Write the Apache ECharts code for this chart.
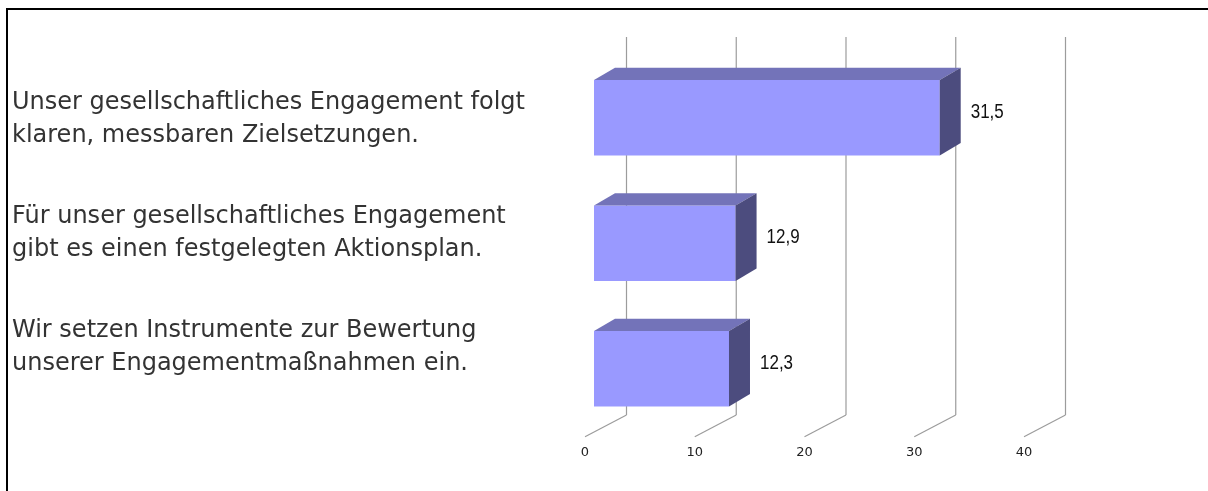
<!DOCTYPE html>
<html><head><meta charset="utf-8">
<script src="https://cdn.jsdelivr.net/npm/echarts@6/dist/echarts.min.js"></script>
<style>html,body{margin:0;padding:0;background:#fff}#c{width:1208px;height:491px}</style>
</head><body><div id="c"></div>
<script>
const categories = [
  'Unser gesellschaftliches Engagement folgt\nklaren, messbaren Zielsetzungen.',
  'Für unser gesellschaftliches Engagement\ngibt es einen festgelegten Aktionsplan.',
  'Wir setzen Instrumente zur Bewertung\nunserer Engagementmaßnahmen ein.'
];
const values = [31.5, 12.9, 12.3];
const valueLabels = ['31,5', '12,9', '12,3'];
const ticks = [0, 10, 20, 30, 40];
const tickLabels = ['0', '10', '20', '30', '40'];

const chart = echarts.init(document.getElementById('c'), null, {renderer: 'canvas'});

function renderGrid(params, api) {
  const t = api.value(0);
  const idx = api.value(1);
  const cs = params.coordSys;
  const p = api.coord([t, 0]);
  const bx = p[0] + 32.5;
  const fx = p[0] - 9;
  const top = cs.y - 18;
  const bottom = cs.y + cs.height - 16.5;
  const front = bottom + 21.7;
  return {
    type: 'group',
    children: [
      {type: 'line', shape: {x1: bx, y1: top, x2: bx, y2: bottom}, style: {stroke: '#9c9c9c', lineWidth: 1.2}},
      {type: 'line', shape: {x1: bx, y1: bottom, x2: fx, y2: front}, style: {stroke: '#9c9c9c', lineWidth: 1.2}},
      {type: 'text', style: {text: tickLabels[idx], x: fx, y: front + 16, align: 'center', verticalAlign: 'middle',
        font: '13px "DejaVu Sans", sans-serif', fill: '#222'}}
    ]
  };
}

function renderBar(params, api) {
  const v = api.value(0);
  const idx = api.value(1);
  const p0 = api.coord([0, idx]);
  const p1 = api.coord([v, idx]);
  const h = api.size([0, 1])[1] * 0.6;
  const x0 = p0[0], x1 = p1[0];
  const yT = p0[1] - h / 2, yB = p0[1] + h / 2;
  const dx = 21, dy = -12.4;
  return {
    type: 'group',
    children: [
      {type: 'rect', shape: {x: x0, y: yT, width: x1 - x0, height: h}, style: {fill: '#9999ff'}},
      {type: 'polygon', shape: {points: [[x0, yT], [x0 + dx, yT + dy], [x1 + dx, yT + dy], [x1, yT]]}, style: {fill: '#7373b9'}},
      {type: 'polygon', shape: {points: [[x1, yT], [x1 + dx, yT + dy], [x1 + dx, yB + dy], [x1, yB]]}, style: {fill: '#4c4c7e'}},
      {type: 'text', x: x1 + 31, y: p0[1] - 5.5, scaleX: 0.85,
        style: {text: valueLabels[idx], x: 0, y: 0, align: 'left', verticalAlign: 'middle',
        font: '20px "Liberation Sans", Arial, sans-serif', fill: '#111'}}
    ]
  };
}

chart.setOption({
  animation: false,
  backgroundColor: '#ffffff',
  grid: [
    {left: 594, width: 439, top: 55, height: 376.5},
    {left: 594, width: 439, top: 62, height: 342}
  ],
  xAxis: [
    {gridIndex: 0, type: 'value', min: 0, max: 40, interval: 10, show: false},
    {gridIndex: 1, type: 'value', min: 0, max: 40, interval: 10, show: false}
  ],
  yAxis: [
    {gridIndex: 0, type: 'category', data: categories, inverse: true, show: false},
    {gridIndex: 1, type: 'category', data: categories, inverse: true,
      axisLine: {show: false}, axisTick: {show: false}, splitLine: {show: false},
      axisLabel: {align: 'left', margin: 582, fontSize: 24, lineHeight: 33, color: '#333',
        fontFamily: '"DejaVu Sans", sans-serif'}}
  ],
  graphic: [
    {type: 'line', shape: {x1: 6, y1: 9, x2: 1208, y2: 9}, style: {stroke: '#000', lineWidth: 2}},
    {type: 'line', shape: {x1: 7, y1: 8, x2: 7, y2: 491}, style: {stroke: '#000', lineWidth: 2}}
  ],
  series: [
    {type: 'custom', xAxisIndex: 0, yAxisIndex: 0, z: 1, renderItem: renderGrid,
      data: ticks.map((t, i) => [t, i]), encode: {x: 0, y: 1}, silent: true},
    {type: 'custom', xAxisIndex: 0, yAxisIndex: 0, z: 2, renderItem: renderBar,
      data: values.map((v, i) => [v, i]), encode: {x: 0, y: 1}, silent: true}
  ]
});
</script>
</body></html>
